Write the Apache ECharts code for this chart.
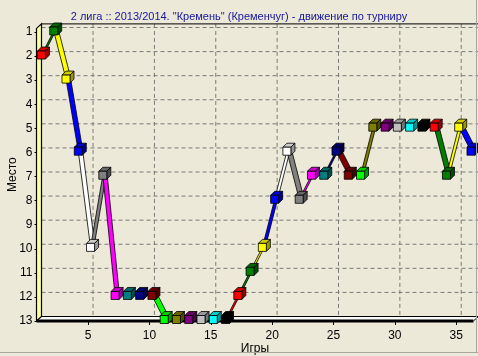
<!DOCTYPE html>
<html><head><meta charset="utf-8">
<script src="https://cdn.jsdelivr.net/npm/echarts@6/dist/echarts.min.js"></script>
<style>html,body{margin:0;padding:0;background:#ECE9D8;}#c{width:478px;height:356px;}</style>
</head><body><div id="c"></div>
<script>
// ---- data ----
const titleText = '2 лига :: 2013/2014. "Кремень" (Кременчуг) - движение по турниру';
const games  = [1,2,3,4,5,6,7,8,9,10,11,12,13,14,15,16,17,18,19,20,21,22,23,24,25,26,27,28,29,30,31,32,33,34,35,36];
const places = [2,1,3,6,10,7,12,12,12,12,13,13,13,13,13,13,12,11,10,8,6,8,7,7,6,7,7,5,5,5,5,5,5,7,5,6];
const palette = ['#FF0000','#008000','#FFFF00','#0000FF','#FFFFFF','#808080','#FF00FF','#008080',
                 '#000080','#800000','#00FF00','#808000','#800080','#C0C0C0','#00FFFF','#000000'];
const xTickValues = [5,10,15,20,25,30,35];
const yTickValues = [1,2,3,4,5,6,7,8,9,10,11,12,13];

// ---- styling helpers ----
const FONT = 'Liberation Sans, Arial, sans-serif';
const DEPTH = [4,-4];      // series ribbon depth
const BACK = [5,-4.5];     // back-wall offset from the front plane
function shade(hex,f){
  const n=parseInt(hex.slice(1),16);
  const r=Math.round(((n>>16)&255)*f), g=Math.round(((n>>8)&255)*f), b=Math.round((n&255)*f);
  return 'rgb('+r+','+g+','+b+')';
}
const colorOf = i => palette[i % palette.length];

const pointData = games.map((g,i)=>[g, places[i], i]);
const segData = [];
for(let i=1;i<games.length;i++) segData.push([games[i-1],places[i-1],games[i],places[i],i]);

const X_MIN=0.8, X_MAX=36.4, Y_MIN=0.85, Y_MAX=13;

const chart = echarts.init(document.getElementById('c'), null, {renderer:'canvas'});
chart.setOption({
  backgroundColor:'#ECE9D8',
  animation:false,
  title:{text:titleText,left:'center',top:6,
    textStyle:{fontSize:11,fontWeight:'normal',color:'#16169a',fontFamily:FONT}},
  grid:[
    {left:36.5,right:4.6,top:28.4,bottom:35,outerBoundsMode:'none',containLabel:false},
    {left:39,right:2.1,top:27.4,bottom:36.5,outerBoundsMode:'none',containLabel:false}
  ],
  xAxis:[
    {type:'value',gridIndex:0,min:X_MIN,max:X_MAX,
     name:'Игры',nameLocation:'middle',nameGap:22,nameMoveOverlap:false,
     nameTextStyle:{fontSize:12,color:'#000',fontFamily:FONT},
     axisLine:{show:false},splitLine:{show:false},
     axisTick:{show:true,length:4,customValues:xTickValues,lineStyle:{color:'#000'}},
     axisLabel:{customValues:xTickValues,fontSize:12,color:'#000',fontFamily:FONT,margin:9}},
    {type:'value',gridIndex:1,min:X_MIN,max:X_MAX,show:false}
  ],
  yAxis:[
    {type:'value',gridIndex:0,min:Y_MIN,max:Y_MAX,inverse:true,
     name:'Место',nameLocation:'middle',nameGap:18,nameRotate:90,nameMoveOverlap:false,
     nameTextStyle:{fontSize:12,color:'#000',fontFamily:FONT},
     axisLine:{show:false},splitLine:{show:false},
     axisTick:{show:true,length:2,customValues:yTickValues,lineStyle:{color:'#000'}},
     axisLabel:{customValues:yTickValues,fontSize:12,color:'#000',fontFamily:FONT,margin:4}},
    {type:'value',gridIndex:1,min:Y_MIN,max:Y_MAX,inverse:true,show:false}
  ],
  series:[
    { // 3D frame: back wall grid, left wall, floor
      type:'custom',xAxisIndex:0,yAxisIndex:0,z:1,silent:true,clip:false,
      data:[[0]],
      renderItem:function(params,api){
        const c=(x,y)=>api.coord([x,y]);
        const b=p=>[p[0]+BACK[0],p[1]+BACK[1]];
        const els=[];
        const tl=c(X_MIN,Y_MIN), bl=c(X_MIN,Y_MAX), br=c(X_MAX,Y_MAX), tr=c(X_MAX,Y_MIN);
        els.push({type:'polygon',shape:{points:[bl,br,b(br),b(bl)]},style:{fill:'#FAFAF6',stroke:null}});
        xTickValues.forEach(v=>{
          const p1=b(c(v,Y_MIN)), p2=b(c(v,Y_MAX));
          els.push({type:'line',shape:{x1:p1[0],y1:p1[1],x2:p2[0],y2:p2[1]},
            style:{stroke:'#7a7a7a',lineWidth:1,lineDash:[4,3]}});
        });
        yTickValues.filter(v=>v<Y_MAX).forEach(v=>{
          const p1=b(c(X_MIN,v)), p2=b(c(X_MAX,v));
          els.push({type:'line',shape:{x1:p1[0],y1:p1[1],x2:p2[0]+4,y2:p2[1]},
            style:{stroke:'#7a7a7a',lineWidth:1,lineDash:[4,3]}});
        });
        const bt=b(tl), btr=b(tr);
        els.push({type:'line',shape:{x1:bt[0],y1:bt[1],x2:btr[0]+4,y2:btr[1]},style:{stroke:'#000',lineWidth:1}});
        const bb=b(bl), bbr=b(br);
        els.push({type:'line',shape:{x1:bb[0],y1:bb[1],x2:bbr[0],y2:bbr[1]},style:{stroke:'#000',lineWidth:1}});
        els.push({type:'line',shape:{x1:br[0],y1:br[1],x2:bbr[0],y2:bbr[1]},style:{stroke:'#000',lineWidth:1}});
        els.push({type:'polygon',shape:{points:[tl,bl,b(bl),b(tl)]},
          style:{fill:'#FFFF99',stroke:'#000',lineWidth:1.2}});
        els.push({type:'line',shape:{x1:bl[0],y1:bl[1],x2:br[0],y2:br[1]},style:{stroke:'#000',lineWidth:3}});
        return {type:'group',children:els};
      }
    },
    { // ribbons
      type:'custom',xAxisIndex:1,yAxisIndex:1,z:2,clip:false,
      data:segData,
      renderItem:function(params,api){
        const p1=api.coord([api.value(0),api.value(1)]);
        const p2=api.coord([api.value(2),api.value(3)]);
        const col=colorOf(api.value(4));
        return {type:'polygon',shape:{points:[p1,p2,[p2[0]+DEPTH[0],p2[1]+DEPTH[1]],[p1[0]+DEPTH[0],p1[1]+DEPTH[1]]]},
          style:{fill:col,stroke:'#000',lineWidth:0.8}};
      }
    },
    { // cube markers
      type:'custom',xAxisIndex:1,yAxisIndex:1,z:3,clip:false,
      data:pointData,
      renderItem:function(params,api){
        const p=api.coord([api.value(0),api.value(1)]);
        const col=colorOf(api.value(2));
        const h=4, dx=DEPTH[0], dy=DEPTH[1];
        const x0=p[0]-h, y0=p[1]-h, x1=x0+2*h, y1=y0+2*h;
        return {type:'group',children:[
          {type:'polygon',shape:{points:[[x0,y0],[x1,y0],[x1+dx,y0+dy],[x0+dx,y0+dy]]},
            style:{fill:shade(col,0.8),stroke:'#000',lineWidth:0.8}},
          {type:'polygon',shape:{points:[[x1,y0],[x1,y1],[x1+dx,y1+dy],[x1+dx,y0+dy]]},
            style:{fill:shade(col,0.6),stroke:'#000',lineWidth:0.8}},
          {type:'rect',shape:{x:x0,y:y0,width:2*h,height:2*h},
            style:{fill:col,stroke:'#000',lineWidth:0.8}}
        ]};
      }
    }
  ],
  graphic:[
    {type:'line',shape:{x1:0,y1:352.5,x2:478,y2:352.5},style:{stroke:'#a7a6a0',lineWidth:1},z:10},
    {type:'line',shape:{x1:476.5,y1:0,x2:476.5,y2:353},style:{stroke:'#a7a6a0',lineWidth:1},z:10}
  ]
});
</script></body></html>
